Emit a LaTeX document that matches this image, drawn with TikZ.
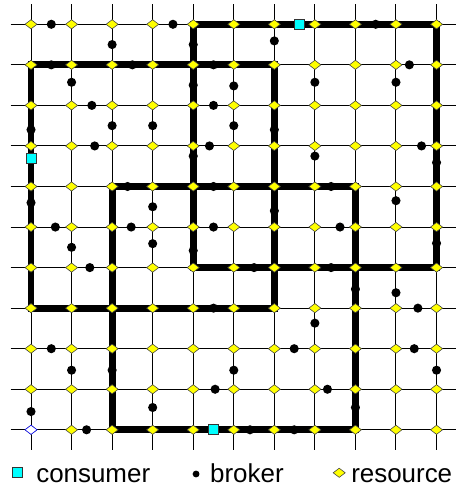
\documentclass[tikz,border=0pt]{standalone}
\usepackage{fontspec}
\setmainfont{Liberation Sans}
\usepackage{tikz}
\usetikzlibrary{shapes.geometric, positioning}
\definecolor{resyellow}{HTML}{FFFF00}
\definecolor{conscyan}{HTML}{00FFFF}

\begin{document}
\begin{tikzpicture}[
      gridline/.style={line width=0.7pt, black},
      region/.style={line width=4.8pt, black},
      resource/.style={diamond, draw=black!75, fill=resyellow, line width=0.4pt, inner sep=0pt, minimum width=8.6pt, minimum height=6.6pt},
      broker/.style={circle, fill=black, inner sep=0pt, minimum size=6.4pt},
      consumer/.style={rectangle, draw=black!80, fill=conscyan, line width=0.5pt, inner sep=0pt, minimum size=7pt},
      legtext/.style={inner sep=0pt, anchor=base west, font=\fontsize{18.2}{20}\selectfont}
    ]
      \useasboundingbox (-0.765,0.599) rectangle (10.456,-11.46);
      % grid points
      \foreach \i in {0,...,10}
        \foreach \j in {0,...,10}
          \coordinate (p-\i-\j) at (\i,-\j);
      % thin grid
      \foreach \k in {0,...,10} {
        \draw[gridline] (-0.5,-\k) -- (10.5,-\k);
        \draw[gridline] (\k,0.5) -- (\k,-10.5);
      }
      % brokers
      \foreach \x/\y [count=\n] in {0.5/0, 3.5/0, 8.5/0, 2/0.5, 4/0.5, 6/0.41,
          0.5/1, 2.5/1, 4.5/1, 9.33/1, 1/1.43, 4/1.5, 5/1.52, 7/1.43, 9/1.43,
          1.5/2, 4.5/2, 0/2.6, 2/2.5, 3/2.5, 5/2.5, 6/2.6,
          1.57/3, 4.4/3, 9.63/3, 4/3.25, 7/3.25, 10/3.41,
          2.38/4, 4.5/4, 7.4/4, 0/4.4, 3/4.5, 9/4.35, 6/4.6,
          0.6/5, 2.47/5, 4.5/5, 7.62/5, 1/5.5, 3/5.41, 4/5.58, 10/5.4,
          1.45/6, 5.5/6, 7.4/6, 8/6.53, 9/6.62,
          4.5/7, 9.54/7, 7/7.37,
          0.5/8, 6.49/8, 9.45/8, 1/8.53, 2/8.53, 5/8.53, 10/8.53,
          4.54/9, 7.31/9, 0/9.55, 3/9.45, 8/9.45,
          1.37/10, 5.4/10, 6.49/10}
        \node[broker] (b\n) at (\x,-\y) {};
      % regions
      \draw[region] (p-4-0) rectangle (p-10-6);
      \draw[region] (p-0-1) rectangle (p-6-7);
      \draw[region] (p-2-4) rectangle (p-8-10);
      % resources
      \foreach \i in {0,...,10}
        \foreach \j in {0,...,10}
          \node[resource] (r-\i-\j) at (p-\i-\j) {};
      \node[resource, fill=white, draw=blue] (r-0-10) at (p-0-10) {};
      % consumers
      \node[consumer] (c1) at (6.61,0) {};
      \node[consumer] (c2) at (0,-3.3) {};
      \node[consumer] (c3) at (4.5,-10) {};
      % legend
      \node[consumer] (lgc) at (-0.345,-11.06) {};
      \node[legtext] (lgct) at (0.123,-11.29) {consumer};
      \node[broker, minimum size=4.8pt] (lgb) at (4.07,-11.09) {};
      \node[legtext] (lgbt) at (4.41,-11.29) {broker};
      \node[resource] (lgr) at (7.6,-11.06) {};
      \node[legtext] (lgrt) at (7.89,-11.29) {resource};
    \end{tikzpicture}
\end{document}
